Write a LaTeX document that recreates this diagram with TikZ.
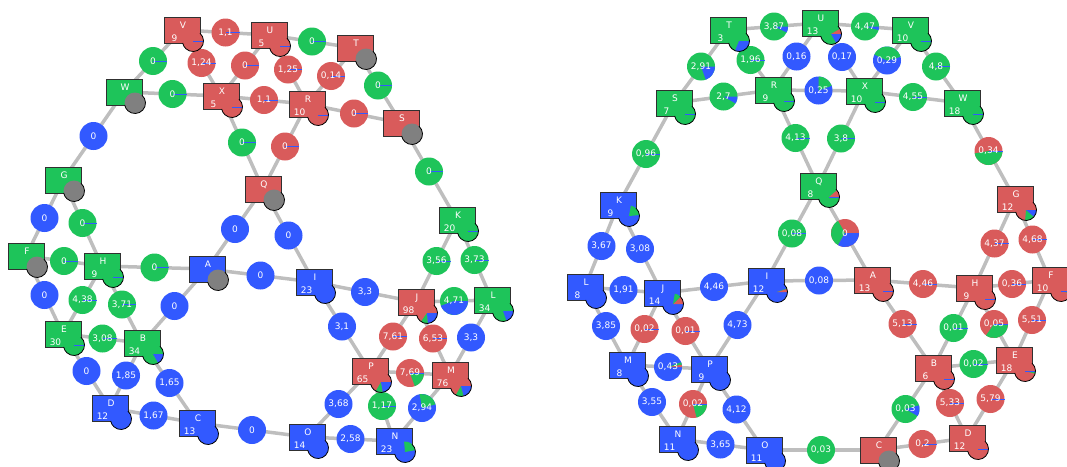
\documentclass[tikz,border=0pt]{standalone}
\usepackage{fontspec}
\setmainfont{DejaVu Sans}
\usetikzlibrary{calc}
\definecolor{cR}{HTML}{D95B5B}
\definecolor{cG}{HTML}{1EC45A}
\definecolor{cB}{HTML}{3259FF}
\definecolor{cK}{HTML}{808080}
\definecolor{cE}{HTML}{BEBEBE}
\definecolor{sqline}{HTML}{303030}
\pgfdeclarelayer{edgel}
\pgfdeclarelayer{labl}
\pgfsetlayers{edgel,labl,main}
\tikzset{
  sq/.style={rectangle, minimum width=36pt, minimum height=26pt, inner sep=0pt, draw=sqline, line width=0.8pt},
  sqt/.style={text=white, font=\fontsize{9}{10}\selectfont, inner sep=0pt},
  elab/.style={circle, minimum size=28pt, inner sep=0pt, draw=none},
  eltxt/.style={text=white, font=\fontsize{9}{10}\selectfont, inner sep=0pt},
  edgeline/.style={draw=cE, line width=3.5pt},
  pieo/.style={draw=black, line width=0.8pt},
  bline/.style={draw=cB, line width=0.7pt},
}
\newcommand{\W}[4]{\fill[#4] (c) -- ++(#1:#3) arc[start angle=#1,end angle=#2,radius=#3] -- cycle;}
\newcommand{\WS}[3]{\W{#1}{#2}{10.5pt}{#3}}
\newcommand{\WL}[3]{\W{#1}{#2}{14pt}{#3}}
\newcommand{\BS}{\draw[bline] (c) -- ++(0:10.5pt);}
\newcommand{\BL}{\draw[bline] (c) -- ++(0:14pt);}
% square node: name, x, y, colour, letter, number, pie base colour, pie extra
\newcommand{\SQ}[8]{%
  \node[sq, fill=#4] (#1) at (#2,#3) {};
  \node[sqt] (#1l) at ([shift={(1pt,4.3pt)}]#1.center) {#5};
  \node[sqt] (#1n) at ([shift={(-7.5pt,-8pt)}]#1.center) {#6};
  \coordinate (c) at ([shift={(11pt,-11pt)}]#1.center);
  \fill[#7] (c) circle[radius=10.5pt];
  #8
  \draw[pieo] ([shift={(48:10.5pt)}]c) arc[start angle=48,end angle=-169,radius=10.5pt];
}
% edge with label: from, to, name, base colour, text, extra
\newcommand{\EL}[6]{%
  \begin{pgfonlayer}{edgel}\draw[edgeline] (#1.center) -- (#2.center);\end{pgfonlayer}
  \begin{pgfonlayer}{labl}
    \path (#1.center) -- node[elab, fill=#4] (#3) {} (#2.center);
    \coordinate (c) at (#3.center);
    #6
    \node[eltxt] (#3t) at (c) {#5};
  \end{pgfonlayer}}
\begin{document}
\begin{tikzpicture}[x=1pt,y=-1pt]
\useasboundingbox (0,0) rectangle (1067,466);
% ---------------- left graph ----------------
\SQ{aV}{182}{30}{cR}{V}{9}{cR}{\BS}
\SQ{aU}{269}{35}{cR}{U}{5}{cR}{\BS}
\SQ{aT}{355}{48}{cR}{T}{}{cK}{}
\SQ{aS}{401}{123}{cR}{S}{}{cK}{}
\SQ{aK}{457}{220}{cG}{K}{20}{cG}{\BS}
\SQ{aR}{307}{104}{cR}{R}{10}{cR}{\BS}
\SQ{aX}{221}{96}{cR}{X}{5}{cR}{\BS}
\SQ{aW}{124}{92}{cG}{W}{}{cK}{}
\SQ{aG}{63}{180}{cG}{G}{}{cK}{}
\SQ{aQ}{263}{189}{cR}{Q}{}{cK}{}
\SQ{aF}{26}{256}{cG}{F}{}{cK}{}
\SQ{aH}{102}{266}{cG}{H}{9}{cG}{\BS}
\SQ{aA}{207}{269}{cB}{A}{}{cK}{}
\SQ{aE}{63}{334}{cG}{E}{30}{cG}{\BS}
\SQ{aB}{142}{343}{cG}{B}{34}{cG}{\WS{300}{360}{cB}}
\SQ{aD}{110}{408}{cB}{D}{12}{cB}{}
\SQ{aC}{197}{423}{cB}{C}{13}{cB}{}
\SQ{aI}{314}{282}{cB}{I}{23}{cB}{}
\SQ{aJ}{416}{302}{cR}{J}{98}{cR}{\WS{235}{275}{cG}\WS{275}{360}{cB}}
\SQ{aL}{492}{300}{cG}{L}{34}{cG}{\WS{290}{360}{cB}}
\SQ{aP}{370}{371}{cR}{P}{65}{cR}{\WS{240}{280}{cG}\WS{280}{360}{cB}}
\SQ{aM}{450}{375}{cR}{M}{76}{cR}{\WS{240}{285}{cG}\WS{285}{360}{cB}}
\SQ{aO}{307}{437}{cB}{O}{14}{cB}{}
\SQ{aN}{394}{441}{cB}{N}{23}{cB}{\WS{10}{95}{cG}}
\EL{aV}{aU}{aVU}{cR}{1,1}{\BL}
\EL{aV}{aW}{aVW}{cG}{0}{\BL}
\EL{aV}{aX}{aVX}{cR}{1,24}{\BL}
\EL{aU}{aX}{aUX}{cR}{0}{\BL}
\EL{aW}{aX}{aWX}{cG}{0}{\BL}
\EL{aX}{aR}{aXR}{cR}{1,1}{\BL}
\EL{aU}{aR}{aUR}{cR}{1,25}{\BL}
\EL{aU}{aT}{aUT}{cG}{0}{\BL}
\EL{aT}{aR}{aTR}{cR}{0,14}{\BL}
\EL{aT}{aS}{aTS}{cG}{0}{\BL}
\EL{aR}{aS}{aRS}{cR}{0}{\BL}
\EL{aR}{aQ}{aRQ}{cR}{0}{\BL}
\EL{aX}{aQ}{aXQ}{cG}{0}{\BL}
\EL{aS}{aK}{aSK}{cG}{0}{\BL}
\EL{aW}{aG}{aWG}{cB}{0}{}
\EL{aG}{aF}{aGF}{cB}{0}{}
\EL{aG}{aH}{aGH}{cG}{0}{\BL}
\EL{aQ}{aA}{aQA}{cB}{0}{}
\EL{aQ}{aI}{aQI}{cB}{0}{}
\EL{aF}{aH}{aFH}{cG}{0}{\BL}
\EL{aH}{aA}{aHA}{cG}{0}{\BL}
\EL{aA}{aI}{aAI}{cB}{0}{}
\EL{aF}{aE}{aFE}{cB}{0}{}
\EL{aH}{aE}{aHE}{cG}{4,38}{\BL}
\EL{aH}{aB}{aHB}{cG}{3,71}{\BL}
\EL{aA}{aB}{aAB}{cB}{0}{}
\EL{aE}{aB}{aEB}{cG}{3,08}{\BL}
\EL{aE}{aD}{aED}{cB}{0}{}
\EL{aB}{aD}{aBD}{cB}{1,85}{}
\EL{aB}{aC}{aBC}{cB}{1,65}{}
\EL{aD}{aC}{aDC}{cB}{1,67}{}
\EL{aC}{aO}{aCO}{cB}{0}{}
\EL{aI}{aJ}{aIJ}{cB}{3,3}{}
\EL{aI}{aP}{aIP}{cB}{3,1}{}
\EL{aK}{aJ}{aKJ}{cG}{3,56}{\BL}
\EL{aK}{aL}{aKL}{cG}{3,73}{\BL}
\EL{aJ}{aL}{aJL}{cG}{4,71}{\WL{200}{360}{cB}}
\EL{aJ}{aP}{aJP}{cR}{7,61}{\BL}
\EL{aJ}{aM}{aJM}{cR}{6,53}{\BL}
\EL{aL}{aM}{aLM}{cB}{3,3}{}
\EL{aP}{aM}{aPM}{cR}{7,69}{\WL{290}{355}{cG}\BL}
\EL{aP}{aO}{aPO}{cB}{3,68}{}
\EL{aP}{aN}{aPN}{cG}{1,17}{\BL}
\EL{aM}{aN}{aMN}{cB}{2,94}{\WL{15}{100}{cG}}
\EL{aO}{aN}{aON}{cB}{2,58}{}
% ---------------- right graph ----------------
\SQ{bT}{728}{30}{cG}{T}{3}{cG}{\WS{248}{360}{cB}}
\SQ{bU}{820}{23}{cG}{U}{13}{cG}{\WS{0}{30}{cR}\WS{300}{360}{cB}}
\SQ{bV}{910}{30}{cG}{V}{10}{cG}{\BS}
\SQ{bR}{773}{90}{cG}{R}{9}{cG}{\BS}
\SQ{bX}{864}{91}{cG}{X}{10}{cG}{\BS}
\SQ{bW}{962}{103}{cG}{W}{18}{cG}{\BS}
\SQ{bS}{674}{103}{cG}{S}{7}{cG}{\BS}
\SQ{bK}{618}{205}{cB}{K}{9}{cB}{\WS{5}{80}{cG}}
\SQ{bQ}{818}{186}{cG}{Q}{8}{cG}{\WS{0}{40}{cR}\BS}
\SQ{bG}{1015}{199}{cR}{G}{12}{cR}{\WS{265}{320}{cG}\WS{320}{360}{cB}}
\SQ{bL}{585}{287}{cB}{L}{8}{cB}{}
\SQ{bJ}{662}{293}{cB}{J}{14}{cB}{\WS{0}{45}{cR}\WS{45}{80}{cG}}
\SQ{bI}{766}{281}{cB}{I}{12}{cB}{\WS{0}{18}{cR}\WS{18}{21}{cG}}
\SQ{bM}{627}{365}{cB}{M}{8}{cB}{}
\SQ{bP}{709}{369}{cB}{P}{9}{cB}{}
\SQ{bN}{677}{439}{cB}{N}{11}{cB}{}
\SQ{bO}{764}{450}{cB}{O}{11}{cB}{}
\SQ{bA}{872}{280}{cR}{A}{13}{cR}{\BS}
\SQ{bH}{974}{288}{cR}{H}{9}{cR}{\BS}
\SQ{bF}{1050}{280}{cR}{F}{10}{cR}{\WS{345}{357}{cG}\BS}
\SQ{bB}{933}{368}{cR}{B}{6}{cR}{\BS}
\SQ{bE}{1014}{360}{cR}{E}{18}{cR}{\WS{345}{358}{cG}\BS}
\SQ{bC}{878}{450}{cR}{C}{}{cK}{}
\SQ{bD}{967}{438}{cR}{D}{12}{cR}{\BS}
\EL{bT}{bU}{bTU}{cG}{3,87}{\WL{335}{360}{cB}}
\EL{bU}{bV}{bUV}{cG}{4,47}{\WL{345}{360}{cB}}
\EL{bT}{bS}{bTS}{cG}{2,91}{\WL{290}{360}{cB}}
\EL{bT}{bR}{bTR}{cG}{1,96}{\BL}
\EL{bU}{bR}{bUR}{cB}{0,16}{}
\EL{bU}{bX}{bUX}{cB}{0,17}{}
\EL{bV}{bX}{bVX}{cB}{0,29}{\WL{15}{155}{cG}}
\EL{bV}{bW}{bVW}{cG}{4,8}{\BL}
\EL{bS}{bR}{bSR}{cG}{2,7}{\WL{330}{360}{cB}}
\EL{bR}{bX}{bRX}{cB}{0,25}{\WL{20}{90}{cG}}
\EL{bX}{bW}{bXW}{cG}{4,55}{\BL}
\EL{bR}{bQ}{bRQ}{cG}{4,13}{\BL}
\EL{bX}{bQ}{bXQ}{cG}{3,8}{\BL}
\EL{bW}{bG}{bWG}{cR}{0,34}{\WL{190}{357}{cG}\BL}
\EL{bS}{bK}{bSK}{cG}{0,96}{\BL}
\EL{bQ}{bI}{bQI}{cG}{0,08}{\BL}
\EL{bQ}{bA}{bQA}{cR}{0}{\WL{120}{240}{cG}\WL{240}{360}{cB}}
\EL{bK}{bL}{bKL}{cB}{3,67}{}
\EL{bK}{bJ}{bKJ}{cB}{3,08}{}
\EL{bL}{bJ}{bLJ}{cB}{1,91}{}
\EL{bJ}{bI}{bJI}{cB}{4,46}{}
\EL{bI}{bA}{bIA}{cB}{0,08}{}
\EL{bL}{bM}{bLM}{cB}{3,85}{}
\EL{bJ}{bM}{bJM}{cR}{0,02}{\BL}
\EL{bJ}{bP}{bJP}{cR}{0,01}{\BL}
\EL{bI}{bP}{bIP}{cB}{4,73}{}
\EL{bM}{bP}{bMP}{cB}{0,43}{\WL{0}{10}{cR}\WL{10}{20}{cG}}
\EL{bM}{bN}{bMN}{cB}{3,55}{}
\EL{bP}{bN}{bPN}{cR}{0,02}{\WL{285}{357}{cG}\BL}
\EL{bP}{bO}{bPO}{cB}{4,12}{}
\EL{bN}{bO}{bNO}{cB}{3,65}{}
\EL{bO}{bC}{bOC}{cG}{0,03}{}
\EL{bA}{bH}{bAH}{cR}{4,46}{\BL}
\EL{bA}{bB}{bAB}{cR}{5,13}{\BL}
\EL{bH}{bB}{bHB}{cG}{0,01}{\BL}
\EL{bH}{bG}{bHG}{cR}{4,37}{\BL}
\EL{bG}{bF}{bGF}{cR}{4,68}{\BL}
\EL{bH}{bF}{bHF}{cR}{0,36}{\BL}
\EL{bH}{bE}{bHE}{cR}{0,05}{\WL{235}{355}{cG}\BL}
\EL{bF}{bE}{bFE}{cR}{5,51}{\BL}
\EL{bB}{bE}{bBE}{cG}{0,02}{\BL}
\EL{bB}{bC}{bBC}{cG}{0,03}{\WL{330}{375}{cB}}
\EL{bB}{bD}{bBD}{cR}{5,33}{\BL}
\EL{bE}{bD}{bED}{cR}{5,79}{\BL}
\EL{bC}{bD}{bCD}{cR}{0,2}{\BL}
\end{tikzpicture}
\end{document}
